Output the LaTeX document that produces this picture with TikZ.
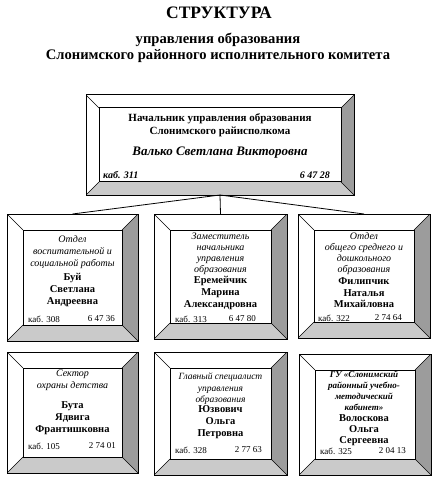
\documentclass[tikz,border=0pt]{standalone}
\usepackage{fontspec}
\setmainfont{Liberation Serif}
\definecolor{bevR}{HTML}{9C9C9C}
\definecolor{bevB}{HTML}{CACACA}
\newlength{\bevd}
\tikzset{
  bevel/.style={draw, line width=1pt, anchor=north west, inner sep=0pt, outer sep=0pt,
    path picture={
      \fill[bevR] (path picture bounding box.north east) -- ++(-\bevd,-\bevd)
        -- ([xshift=-\bevd,yshift=\bevd]path picture bounding box.south east)
        -- (path picture bounding box.south east) -- cycle;
      \fill[bevB] (path picture bounding box.south west) -- ++(\bevd,\bevd)
        -- ([xshift=-\bevd,yshift=\bevd]path picture bounding box.south east)
        -- (path picture bounding box.south east) -- cycle;
      \draw[line width=0.5pt] (path picture bounding box.north west) -- ++(\bevd,-\bevd);
      \draw[line width=0.5pt] (path picture bounding box.north east) -- ++(-\bevd,-\bevd);
      \draw[line width=0.5pt] (path picture bounding box.south west) -- ++(\bevd,\bevd);
      \draw[line width=0.5pt] (path picture bounding box.south east) -- ++(-\bevd,\bevd);
      \draw[line width=1pt] ([xshift=\bevd,yshift=-\bevd]path picture bounding box.north west)
        rectangle ([xshift=-\bevd,yshift=\bevd]path picture bounding box.south east);
    }},
  conn/.style={line width=0.8pt},
  ttl/.style={font=\fontsize{17.5}{20}\selectfont\bfseries},
  sub/.style={font=\fontsize{14.6}{16}\selectfont\bfseries, align=center},
  head/.style={font=\fontsize{11}{13}\selectfont\bfseries, align=center},
  boss/.style={font=\fontsize{13}{15}\selectfont\bfseries\itshape},
  bosskab/.style={font=\fontsize{10}{11}\selectfont\bfseries\itshape, inner sep=0pt},
  dept/.style={font=\fontsize{10}{12}\selectfont\itshape, align=center, inner sep=0pt},
  deptb/.style={font=\fontsize{9}{11.2}\selectfont\bfseries\itshape, align=center, inner sep=0pt},
  pers/.style={font=\fontsize{10.5}{12}\selectfont\bfseries, align=center, inner sep=0pt},
  kab/.style={font=\fontsize{9}{11}\selectfont, inner sep=0pt},
}
\begin{document}
\begin{tikzpicture}[x=1pt,y=-1pt]
\useasboundingbox (0,0) rectangle (438,486);
% titles
\node[ttl] (t0) at (219,13) {СТРУКТУРА};
\node[sub] (t1) at (218,48) {управления образования\\Слонимского районного исполнительного комитета};
% top box
\setlength{\bevd}{13pt}
\node[bevel, minimum width=268pt, minimum height=100pt] (top) at (86,95) {};
\node[head] (th) at (220,125) {Начальник управления образования\\Слонимского райисполкома};
\node[boss] (tn) at (220,153) {Валько Светлана Викторовна};
\node[bosskab, anchor=west] (tk) at (103,175) {каб. 311};
\node[bosskab, anchor=east] (tp) at (330,175) {6 47 28};
% row 2
\setlength{\bevd}{16pt}
\node[bevel, minimum width=131pt, minimum height=127pt] (b1) at (7,214) {};
\node[bevel, minimum width=133pt, minimum height=125pt] (b2) at (154,214) {};
\node[bevel, minimum width=132pt, minimum height=124pt] (b3) at (298,214) {};
% row 3
\node[bevel, minimum width=131pt, minimum height=121pt] (b4) at (7,352) {};
\node[bevel, minimum width=133pt, minimum height=123pt] (b5) at (154,352) {};
\node[bevel, minimum width=132pt, minimum height=121pt] (b6) at (299,354) {};
% connectors
\draw[conn] (top.south) -- (b1.north);
\draw[conn] (top.south) -- (b2.north);
\draw[conn] (top.south) -- (b3.north);
% box 1
\node[dept] (d1) at (72.5,252) {Отдел\\воспитательной и\\социальной работы};
\node[pers] (p1) at (72.5,290) {Буй\\Светлана\\Андреевна};
\node[kab, anchor=west] (k1) at (28,319) {каб. 308};
\node[kab, anchor=east] (n1) at (115,319) {6 47 36};
% box 2
\node[dept, font=\fontsize{10}{11}\selectfont\itshape] (d2) at (220.5,254) {Заместитель\\начальника\\управления\\образования};
\node[pers] (p2) at (220.5,293) {Еремейчик\\Марина\\Александровна};
\node[kab, anchor=west] (k2) at (175,319) {каб. 313};
\node[kab, anchor=east] (n2) at (256,319) {6 47 80};
% box 3
\node[dept, font=\fontsize{10}{11}\selectfont\itshape] (d3) at (364,254) {Отдел\\общего среднего и\\дошкольного\\образования};
\node[pers, font=\fontsize{10.5}{11.5}\selectfont\bfseries] (p3) at (364,293) {Филипчик\\Наталья\\Михайловна};
\node[kab, anchor=west] (k3) at (318,318) {каб. 322};
\node[kab, anchor=east] (n3) at (402,318) {2 74 64};
% box 4
\node[dept] (d4) at (72.5,380) {Сектор\\охраны детства};
\node[pers] (p4) at (72.5,418) {Бута\\Ядвига\\Франтишковна};
\node[kab, anchor=west] (k4) at (28,446) {каб. 105};
\node[kab, anchor=east] (n4) at (116,446) {2 74 01};
% box 5
\node[dept, font=\fontsize{9.5}{11.5}\selectfont\itshape] (d5) at (220.5,389) {Главный специалист\\управления\\образования};
\node[pers] (p5) at (220.5,422) {Юзвович\\Ольга\\Петровна};
\node[kab, anchor=west] (k5) at (175,450) {каб. 328};
\node[kab, anchor=east] (n5) at (262,450) {2 77 63};
% box 6
\node[deptb] (d6) at (364,391) {ГУ «Слонимский\\районный учебно-\\методический\\кабинет»};
\node[pers, font=\fontsize{10.5}{11}\selectfont\bfseries] (p6) at (364,430) {Волоскова\\Ольга\\Сергеевна};
\node[kab, anchor=west] (k6) at (320,451) {каб. 325};
\node[kab, anchor=east] (n6) at (406,451) {2 04 13};
\end{tikzpicture}
\end{document}
